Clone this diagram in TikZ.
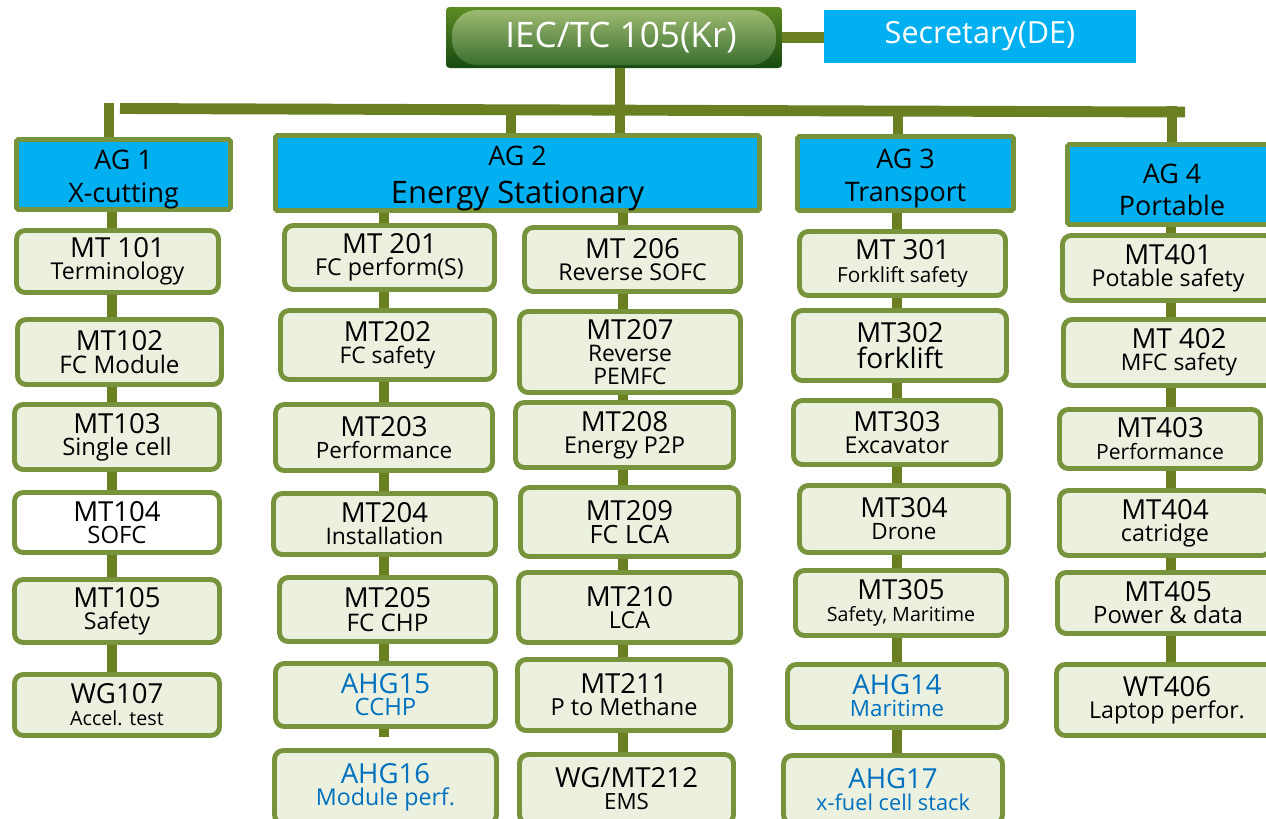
\documentclass[tikz,border=0pt]{standalone}
\usepackage{fontspec}
\setmainfont{Open Sans}
\definecolor{bordc}{HTML}{77933C}
\definecolor{connc}{HTML}{6A7F22}
\definecolor{fillc}{HTML}{EBF1DE}
\definecolor{cyanc}{HTML}{00B0F0}
\definecolor{bluec}{HTML}{0070C0}
\definecolor{iecl}{HTML}{5C8A22}
\definecolor{iecd}{HTML}{184A12}
\definecolor{pilll}{HTML}{A2BE74}
\definecolor{pilld}{HTML}{356A2C}
\newcommand\obox[7]{\node[#2,minimum width={(#5-#3-5)*0.02cm},minimum height={(#6-#4-5)*0.02cm}] (#1) at ({(#3+#5)/2},{(#4+#6)/2}) {#7};}
\newcommand\subl[3][12.6]{{\fontsize{#2}{#1}\selectfont #3}}
\newcommand\tightls{\lineskiplimit-100pt\relax}
\newcommand\agup{\rule{0pt}{17pt}}
\tikzset{
  conn/.style={draw=connc,line width=6.2pt},
  mt/.style={draw=bordc,fill=fillc,line width=2.8pt,rounded corners=5pt,align=center,inner sep=0pt,
    font=\fontsize{15.7}{12.6}\selectfont\tightls},
  mtmid/.style={mt,font=\fontsize{15.7}{13.3}\selectfont\tightls},
  mtwide/.style={mt,font=\fontsize{15.7}{14.4}\selectfont\tightls},
  wbox/.style={mt,fill=white},
  ahg/.style={mt,text=bluec},
  ag/.style={draw=bordc,fill=cyanc,line width=2.8pt,rounded corners=1pt,align=center,inner sep=0pt,
    font=\fontsize{15.3}{18.5}\selectfont\tightls},
  agwide/.style={ag,font=\fontsize{15.3}{21.5}\selectfont\tightls},
  iec/.style={top color=iecl,bottom color=iecd,rounded corners=2pt,inner sep=0pt,text=white,
    font=\fontsize{20}{24}\selectfont,
    path picture={\shade[top color=pilll,bottom color=pilld,rounded corners=0.5cm]
      ([shift={(6,3)}]path picture bounding box.north west) rectangle
      ([shift={(-6,-3)}]path picture bounding box.south east);}},
  sec/.style={fill=cyanc,inner sep=0pt,text=white,font=\fontsize{17.4}{22}\selectfont},
}
\begin{document}
\begin{tikzpicture}[x=0.02cm,y=-0.02cm]
\clip (0,0) rectangle (1266,818);
\fill[white] (0,0) rectangle (1266,818);
% top
\node[iec,minimum width={336*0.02cm},minimum height={61*0.02cm}] (IEC) at (614,37.5) {\hspace*{8pt}IEC/TC 105(Kr)};
\node[sec,minimum width={312*0.02cm},minimum height={53*0.02cm}] (SEC) at (980,36.5) {Secretary(DE)};
% AG boxes
\obox{AG1}{ag}{14}{137}{233}{212}{\agup AG 1\\X-cutting}
\obox{AG2}{agwide}{273}{135}{762}{211}{\agup AG 2\\{\fontsize{17.6}{21.5}\selectfont Energy Stationary}}
\obox{AG3}{ag}{795}{134}{1016}{213}{\agup AG 3\\Transport}
\obox{AG4}{ag}{1065}{142}{1279}{227}{\agup AG 4\\Portable}
% column 1
\obox{MT101}{mt}{14}{228}{221}{295}{MT 101\\\subl{13.2}{Terminology}}
\obox{MT102}{mtmid}{15}{317}{224}{387}{MT102\\\subl[13.3]{13.8}{FC Module}}
\obox{MT103}{mt}{12}{402}{222}{472}{MT103\\\subl{13.6}{Single cell}}
\obox{MT104}{wbox}{12}{490}{222}{555}{MT104\\\subl{13.6}{SOFC}}
\obox{MT105}{mt}{12}{577}{222}{645}{MT105\\\subl{13.2}{Safety}}
\obox{WG107}{mt}{12}{672}{222}{738}{WG107\\\subl{11.2}{Accel. test}}
% column 2a
\obox{MT201}{mt}{282}{223}{497}{292}{MT 201\\\subl{13.2}{FC perform(S)}}
\obox{MT202}{mt}{278}{308}{497}{382}{MT202\\\subl{13}{FC safety}}
\obox{MT203}{mt}{273}{402}{495}{473}{MT203\\\subl{12.8}{Performance}}
\obox{MT204}{mt}{271}{491}{498}{557}{MT204\\\subl{13}{Installation}}
\obox{MT205}{mtmid}{277}{575}{498}{644}{MT205\\\subl[13.3]{13.8}{FC CHP}}
\obox{AHG15}{ahg}{273}{661}{498}{729}{AHG15\\\subl{13.6}{CCHP}}
\obox{AHG16}{ahg}{272}{748}{499}{826}{AHG16\\\subl{13.2}{Module perf.}}
% column 2b
\obox{MT206}{mt}{522}{225}{743}{294}{MT 206\\\subl{13.2}{Reverse SOFC}}
\obox{MT207}{mt}{517}{309}{743}{395}{MT207\\\subl{13}{Reverse}\\\subl{13}{PEMFC}}
\obox{MT208}{mt}{513}{400}{736}{470}{MT208\\\subl{13.2}{Energy P2P}}
\obox{MT209}{mtmid}{518}{485}{741}{559}{MT209\\\subl[13.3]{14.3}{FC LCA}}
\obox{MT210}{mt}{516}{570}{743}{645}{MT210\\\subl{13.3}{LCA}}
\obox{MT211}{mt}{515}{657}{733}{733}{MT211\\\subl{13.4}{P to Methane}}
\obox{MT212}{mt}{517}{752}{736}{826}{WG/MT212\\\subl{12.7}{EMS}}
% column 3
\obox{MT301}{mt}{797}{229}{1008}{298}{MT 301\\\subl{11.8}{Forklift safety}}
\obox{MT302}{mtwide}{791}{308}{1009}{383}{MT302\\\subl[14.4]{16}{forklift}}
\obox{MT303}{mt}{791}{398}{1003}{467}{MT303\\\subl{13.2}{Excavator}}
\obox{MT304}{mt}{797}{483}{1011}{555}{MT304\\\subl{12.8}{Drone}}
\obox{MT305}{mt}{793}{568}{1009}{638}{MT305\\\subl{11.2}{Safety, Maritime}}
\obox{AHG14}{ahg}{785}{662}{1009}{730}{AHG14\\\subl{12.7}{Maritime}}
\obox{AHG17}{ahg}{781}{753}{1005}{826}{AHG17\\\subl{12.4}{x-fuel cell stack}}
% column 4
\obox{MT401}{mt}{1060}{233}{1276}{303}{MT401\\\subl{13.2}{Potable safety}}
\obox{MT402}{mt}{1061}{317}{1297}{388}{MT 402\\\subl{13}{MFC safety}}
\obox{MT403}{mt}{1057}{407}{1263}{471}{MT403\\\subl{12}{Performance}}
\obox{MT404}{mt}{1057}{488}{1273}{558}{MT404\\\subl{13.3}{catridge}}
\obox{MT405}{mt}{1055}{570}{1281}{636}{MT405\\\subl{13.6}{Power \& data}}
\obox{WT406}{mt}{1054}{662}{1280}{738}{WT406\\\subl{13.2}{Laptop perfor.}}
% connectors
\coordinate (busL) at (120,108.5);
\coordinate (busR) at (1185,112);
\coordinate (ag1top) at (109,103);
\coordinate (b2) at (511,106);
\coordinate (b3) at (898,106);
\coordinate (b4) at (1172,106);
\coordinate (t2) at (620,0);
\coordinate (c1) at (112,0);
\coordinate (c2a) at (384,0);
\coordinate (c2b) at (623,0);
\coordinate (c3) at (897,0);
\coordinate (c4) at (1171,0);
\coordinate (stub) at (384,737);
\draw[conn] (IEC.east) -- (IEC.east -| SEC.west);
\draw[conn] (busL) -- (busR);
\draw[conn] (t2 |- IEC.south) -- (t2 |- AG2.north);
\draw[conn] (ag1top) -- (ag1top |- AG1.north);
\draw[conn] (b2) -- (b2 |- AG2.north);
\draw[conn] (b3) -- (b3 |- AG3.north);
\draw[conn] (b4) -- (b4 |- AG4.north);
\foreach \a/\b in {AG1/MT101,MT101/MT102,MT102/MT103,MT103/MT104,MT104/MT105,MT105/WG107}
  \draw[conn] (c1 |- \a.south) -- (c1 |- \b.north);
\foreach \a/\b in {AG2/MT201,MT201/MT202,MT202/MT203,MT203/MT204,MT204/MT205,MT205/AHG15}
  \draw[conn] (c2a |- \a.south) -- (c2a |- \b.north);
\draw[conn] (c2a |- AHG15.south) -- (stub);
\foreach \a/\b in {AG2/MT206,MT206/MT207,MT207/MT208,MT208/MT209,MT209/MT210,MT210/MT211,MT211/MT212}
  \draw[conn] (c2b |- \a.south) -- (c2b |- \b.north);
\foreach \a/\b in {AG3/MT301,MT301/MT302,MT302/MT303,MT303/MT304,MT304/MT305,MT305/AHG14,AHG14/AHG17}
  \draw[conn] (c3 |- \a.south) -- (c3 |- \b.north);
\foreach \a/\b in {AG4/MT401,MT401/MT402,MT402/MT403,MT403/MT404,MT404/MT405,MT405/WT406}
  \draw[conn] (c4 |- \a.south) -- (c4 |- \b.north);
\end{tikzpicture}
\end{document}
